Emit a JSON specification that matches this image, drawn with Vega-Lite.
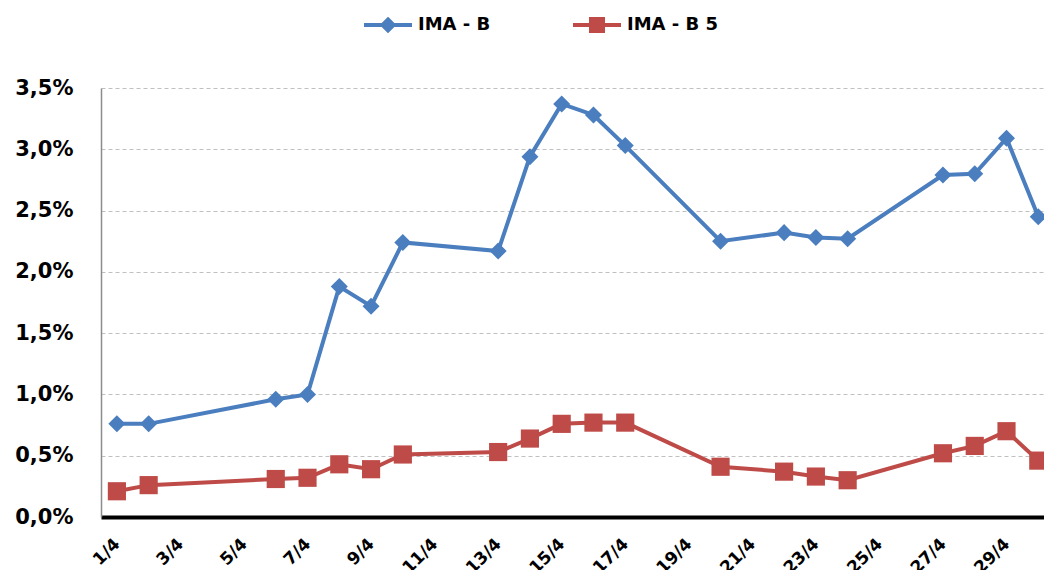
{
  "$schema": "https://vega.github.io/schema/vega-lite/v6.json",
  "width": 943,
  "height": 429,
  "autosize": {"type": "none"},
  "padding": {"left": 101, "top": 88, "right": 0, "bottom": 53},
  "background": "white",
  "config": {
    "view": {"stroke": null},
    "font": "DejaVu Sans"
  },
  "datasets": {
    "imab": [
      {"day": 1, "series": "IMA - B", "value": 0.76},
      {"day": 2, "series": "IMA - B", "value": 0.76},
      {"day": 6, "series": "IMA - B", "value": 0.96},
      {"day": 7, "series": "IMA - B", "value": 1.00},
      {"day": 8, "series": "IMA - B", "value": 1.88},
      {"day": 9, "series": "IMA - B", "value": 1.72},
      {"day": 10, "series": "IMA - B", "value": 2.24},
      {"day": 13, "series": "IMA - B", "value": 2.17},
      {"day": 14, "series": "IMA - B", "value": 2.94},
      {"day": 15, "series": "IMA - B", "value": 3.37},
      {"day": 16, "series": "IMA - B", "value": 3.28},
      {"day": 17, "series": "IMA - B", "value": 3.03},
      {"day": 20, "series": "IMA - B", "value": 2.25},
      {"day": 22, "series": "IMA - B", "value": 2.32},
      {"day": 23, "series": "IMA - B", "value": 2.28},
      {"day": 24, "series": "IMA - B", "value": 2.27},
      {"day": 27, "series": "IMA - B", "value": 2.79},
      {"day": 28, "series": "IMA - B", "value": 2.80},
      {"day": 29, "series": "IMA - B", "value": 3.09},
      {"day": 30, "series": "IMA - B", "value": 2.45}
    ],
    "imab5": [
      {"day": 1, "series": "IMA - B 5", "value": 0.21},
      {"day": 2, "series": "IMA - B 5", "value": 0.26},
      {"day": 6, "series": "IMA - B 5", "value": 0.31},
      {"day": 7, "series": "IMA - B 5", "value": 0.32},
      {"day": 8, "series": "IMA - B 5", "value": 0.43},
      {"day": 9, "series": "IMA - B 5", "value": 0.39},
      {"day": 10, "series": "IMA - B 5", "value": 0.51},
      {"day": 13, "series": "IMA - B 5", "value": 0.53},
      {"day": 14, "series": "IMA - B 5", "value": 0.64},
      {"day": 15, "series": "IMA - B 5", "value": 0.76},
      {"day": 16, "series": "IMA - B 5", "value": 0.77},
      {"day": 17, "series": "IMA - B 5", "value": 0.77},
      {"day": 20, "series": "IMA - B 5", "value": 0.41},
      {"day": 22, "series": "IMA - B 5", "value": 0.37},
      {"day": 23, "series": "IMA - B 5", "value": 0.33},
      {"day": 24, "series": "IMA - B 5", "value": 0.30},
      {"day": 27, "series": "IMA - B 5", "value": 0.52},
      {"day": 28, "series": "IMA - B 5", "value": 0.58},
      {"day": 29, "series": "IMA - B 5", "value": 0.70},
      {"day": 30, "series": "IMA - B 5", "value": 0.46}
    ]
  },
  "resolve": {"scale": {"color": "independent"}, "legend": {"color": "independent"}},
  "encoding": {
    "x": {
      "field": "day",
      "type": "quantitative",
      "scale": {"domain": [0.5, 30.18], "nice": false, "zero": false},
      "axis": {
        "title": null,
        "values": [1, 3, 5, 7, 9, 11, 13, 15, 17, 19, 21, 23, 25, 27, 29],
        "labelExpr": "datum.value + '/4'",
        "labelAngle": -45,
        "labelAlign": "right",
        "labelBaseline": "middle",
        "labelFont": "DejaVu Sans",
        "labelFontWeight": "bold",
        "labelFontSize": 17,
        "labelColor": "#000000",
        "labelPadding": 24,
        "ticks": false,
        "grid": false,
        "domainColor": "#000000",
        "domainWidth": 4,
        "labelOverlap": false,
        "labelBound": false,
        "labelFlush": false
      }
    },
    "y": {
      "field": "value",
      "type": "quantitative",
      "scale": {"domain": [0, 3.5], "nice": false},
      "axis": {
        "title": null,
        "values": [0, 0.5, 1, 1.5, 2, 2.5, 3, 3.5],
        "labelExpr": "replace(format(datum.value, '.1f'), '.', ',') + '%'",
        "labelFont": "DejaVu Sans",
        "labelFontWeight": "bold",
        "labelFontSize": 21,
        "labelColor": "#000000",
        "labelPadding": 28,
        "ticks": false,
        "domainColor": "#8c8c8c",
        "domainWidth": 1.5,
        "grid": true,
        "gridColor": "#c0c0c0",
        "gridDash": [4, 3],
        "gridWidth": 1
      }
    }
  },
  "layer": [
    {
      "data": {"name": "imab"},
      "encoding": {
        "color": {
          "field": "series",
          "type": "nominal",
          "scale": {"domain": ["IMA - B"], "range": ["#4A7EBF"]},
          "legend": {
            "title": null,
            "orient": "none",
            "legendX": 260,
            "legendY": -90,
            "symbolType": "M-0.96,0 L0.96,0 M0,-0.22 L0.22,0 L0,0.22 L-0.22,0 Z",
            "symbolSize": 2500,
            "symbolStrokeWidth": 4,
            "symbolStrokeColor": "#4A7EBF",
            "symbolFillColor": "#4A7EBF",
            "labelFont": "DejaVu Sans",
            "labelFontWeight": "bold",
            "labelFontSize": 18,
            "labelColor": "#000000",
            "labelOffset": 3
          }
        }
      },
      "layer": [
        {"mark": {"type": "line", "strokeWidth": 4, "clip": true}},
        {"mark": {"type": "point", "shape": "diamond", "filled": true, "opacity": 1, "size": 290, "clip": true}}
      ]
    },
    {
      "data": {"name": "imab5"},
      "encoding": {
        "color": {
          "field": "series",
          "type": "nominal",
          "scale": {"domain": ["IMA - B 5"], "range": ["#BE4B48"]},
          "legend": {
            "title": null,
            "orient": "none",
            "legendX": 469,
            "legendY": -90,
            "symbolType": "M-0.96,0 L0.96,0 M-0.24,-0.24 L0.24,-0.24 L0.24,0.24 L-0.24,0.24 Z",
            "symbolSize": 2500,
            "symbolStrokeWidth": 4,
            "symbolStrokeColor": "#BE4B48",
            "symbolFillColor": "#BE4B48",
            "labelFont": "DejaVu Sans",
            "labelFontWeight": "bold",
            "labelFontSize": 18,
            "labelColor": "#000000",
            "labelOffset": 3
          }
        }
      },
      "layer": [
        {"mark": {"type": "line", "strokeWidth": 4, "clip": true}},
        {"mark": {"type": "point", "shape": "square", "filled": true, "opacity": 1, "size": 330, "clip": true}}
      ]
    }
  ]
}
